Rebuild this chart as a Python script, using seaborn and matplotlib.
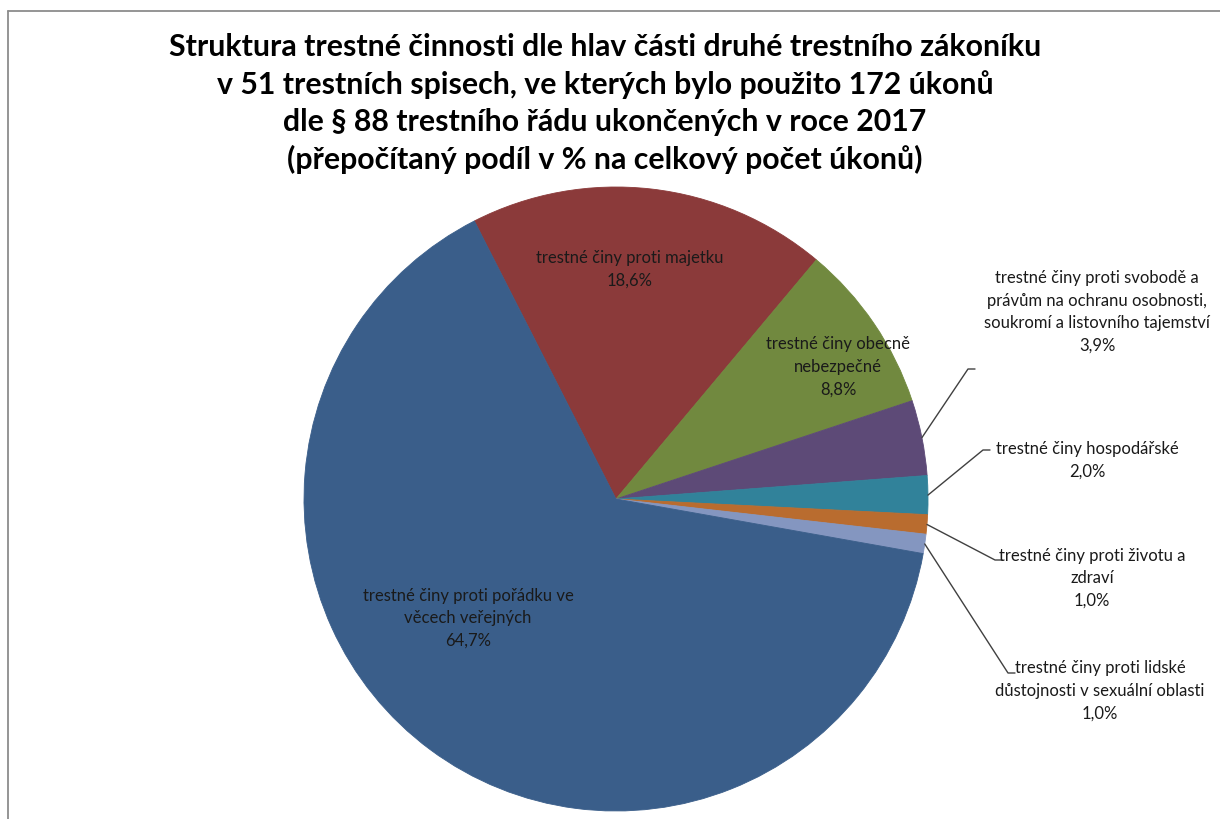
import numpy as np
import pandas as pd
import seaborn as sns
import matplotlib.pyplot as plt
from matplotlib.lines import Line2D

# Style
sns.set_theme(style="white")
plt.rcParams['font.family'] = ['Lato', 'DejaVu Sans']

# Data (order as drawn, clockwise from the upper left)
categories = ['trestné činy proti majetku',
              'trestné činy obecně\nnebezpečné',
              'trestné činy proti svobodě a\nprávům na ochranu osobnosti,\nsoukromí a listovního tajemství',
              'trestné činy hospodářské',
              'trestné činy proti životu a\nzdraví',
              'trestné činy proti lidské\ndůstojnosti v sexuální oblasti',
              'trestné činy proti pořádku ve\nvěcech veřejných']
shares = [18.6, 8.8, 3.9, 2.0, 1.0, 1.0, 64.7]
colors = ['#8B3A3A', '#71893F', '#5D4A77', '#31829A', '#B96C2F', '#8496C0', '#3A5E8A']

title = ('Struktura trestné činnosti dle hlav části druhé trestního zákoníku\n'
         'v 51 trestních spisech, ve kterých bylo použito 172 úkonů\n'
         'dle § 88 trestního řádu ukončených v roce 2017\n'
         '(přepočítaný podíl v % na celkový počet úkonů)')

# Layout (pixels, origin top-left)
W, H = 1220, 819
label_pos = [(630, 269), (838, 367), (1097, 312), (1087, 460),
             (1092, 578), (1100, 691), (468, 618)]
elbows = [None, None, (968, 369), (983, 450), (995, 560), (1008, 673), None]

fig = plt.figure(figsize=(W / 100, H / 100), dpi=100)
ax = fig.add_axes([0, 0, 1, 1])

cx, cy, r = 616, H - 499, 312
palette = sns.color_palette(colors)
wedges, _ = ax.pie(shares, colors=palette, startangle=117, counterclock=False,
                   center=(cx, cy), radius=r, wedgeprops=dict(linewidth=0.6))
for w in wedges:
    w.set_edgecolor(w.get_facecolor())
ax.set_xlim(0, W)
ax.set_ylim(0, H)
ax.set_axis_off()

# Labels + leader lines
for w, cat, val, (lx, ly), elb in zip(wedges, categories, shares, label_pos, elbows):
    txt = cat + '\n' + f'{val:.1f}'.replace('.', ',') + '%'
    ax.text(lx, H - ly, txt, ha='center', va='center', fontsize=12,
            color='#1a1a1a', linespacing=1.5)
    if elb is not None:
        mid = np.deg2rad((w.theta1 + w.theta2) / 2)
        ex, ey = cx + r * np.cos(mid), cy + r * np.sin(mid)
        ax.plot([ex, elb[0], elb[0] + 7], [ey, H - elb[1], H - elb[1]],
                color='#404040', lw=1)

fig.text(605 / W, 1 - 103.5 / H, title, ha='center', va='center',
         fontsize=21.8, fontweight='bold', color='black', linespacing=1.38)

# chart frame (only left and top edges visible)
fig.add_artist(Line2D([7.5 / W, 7.5 / W], [0, 1 - 10.5 / H],
                      transform=fig.transFigure, color='#8c8c8c', lw=1.3))
fig.add_artist(Line2D([7.5 / W, 1], [1 - 10.5 / H, 1 - 10.5 / H],
                      transform=fig.transFigure, color='#8c8c8c', lw=1.3))

fig.savefig('out.png', dpi=100)
